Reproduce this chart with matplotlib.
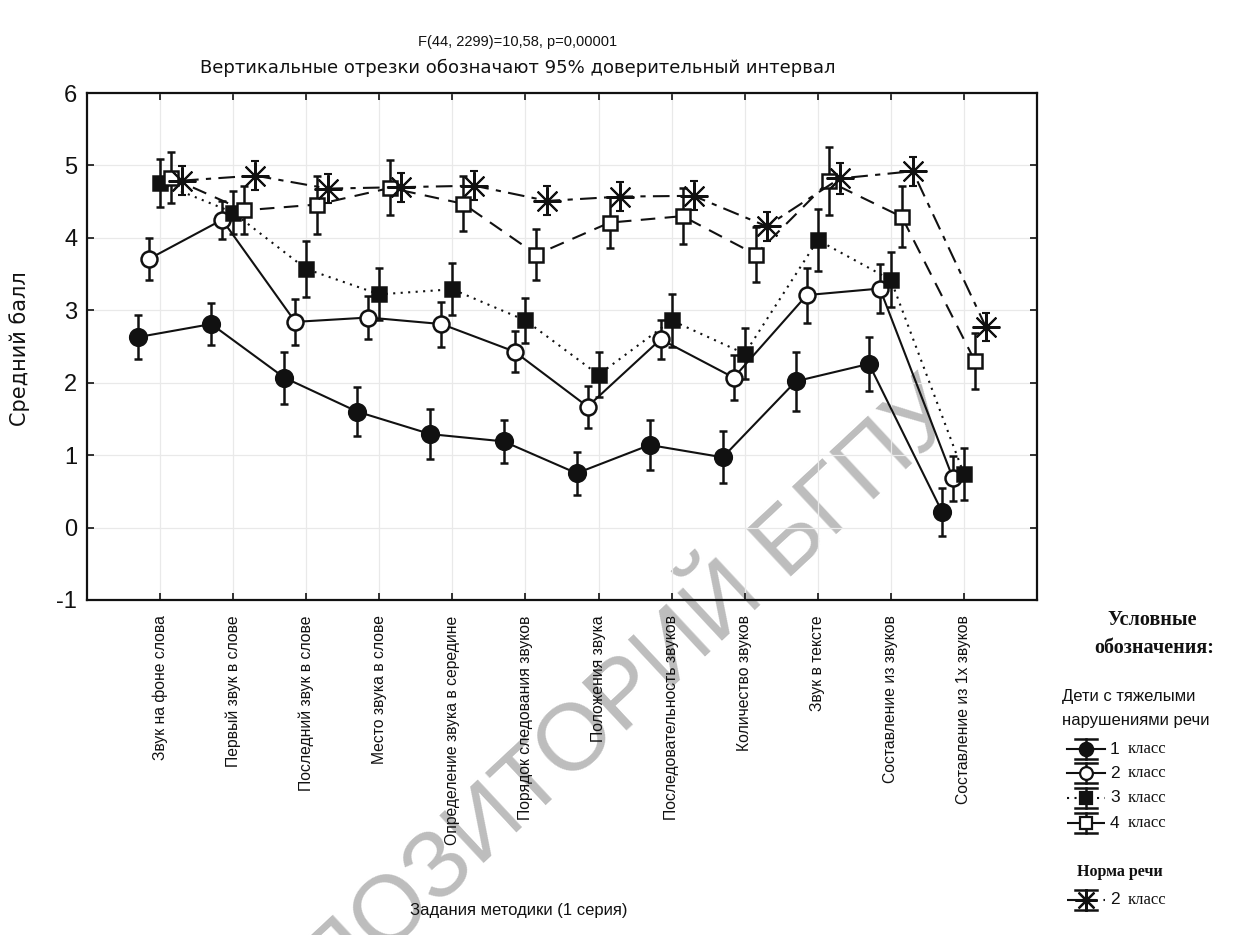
import matplotlib
matplotlib.use("Agg")
import matplotlib.pyplot as plt
import numpy as np

SANS = "Liberation Sans"
WIDE = "DejaVu Sans"
SERIF = "Liberation Serif"
INK = "#111111"

plt.rcParams.update({
    "font.family": SANS,
    "text.color": INK,
    "axes.edgecolor": INK,
})

# ---------------------------------------------------------------------------
# data
# ---------------------------------------------------------------------------
tasks = [
    "Звук на фоне слова",
    "Первый звук в слове",
    "Последний звук в слове",
    "Место звука в слове",
    "Определение звука в середине",
    "Порядок следования звуков",
    "Положения звука",
    "Последовательность звуков",
    "Количество звуков",
    "Звук в тексте",
    "Составление из звуков",
    "Составление из 1х звуков",
]

grade1 = [2.63, 2.81, 2.07, 1.60, 1.29, 1.19, 0.75, 1.14, 0.97, 2.02, 2.26, 0.22]
grade1_ci = [0.30, 0.29, 0.36, 0.34, 0.35, 0.30, 0.30, 0.35, 0.36, 0.41, 0.37, 0.33]

grade2 = [3.71, 4.25, 2.84, 2.90, 2.81, 2.43, 1.67, 2.60, 2.07, 3.21, 3.30, 0.68]
grade2_ci = [0.29, 0.26, 0.32, 0.30, 0.31, 0.28, 0.29, 0.27, 0.31, 0.38, 0.34, 0.31]

grade3 = [4.76, 4.35, 3.57, 3.22, 3.29, 2.86, 2.11, 2.86, 2.40, 3.97, 3.42, 0.74]
grade3_ci = [0.33, 0.30, 0.38, 0.36, 0.36, 0.31, 0.31, 0.36, 0.35, 0.43, 0.38, 0.36]

grade4 = [4.83, 4.38, 4.46, 4.69, 4.47, 3.77, 4.21, 4.30, 3.77, 4.78, 4.29, 2.30]
grade4_ci = [0.35, 0.33, 0.40, 0.38, 0.38, 0.35, 0.35, 0.39, 0.38, 0.47, 0.42, 0.38]

norm2 = [4.79, 4.86, 4.68, 4.70, 4.72, 4.51, 4.57, 4.58, 4.16, 4.82, 4.92, 2.77]
norm2_ci = [0.20, 0.20, 0.20, 0.20, 0.20, 0.20, 0.20, 0.20, 0.20, 0.22, 0.20, 0.19]

y_ticks = [-1, 0, 1, 2, 3, 4, 5, 6]

title_1 = "F(44, 2299)=10,58, p=0,00001"
title_2 = "Вертикальные отрезки обозначают 95% доверительный интервал"
x_title = "Задания методики (1 серия)"
y_title = "Средний балл"

# ---------------------------------------------------------------------------
# series styles
# ---------------------------------------------------------------------------
series = [
    dict(y=grade1, ci=grade1_ci, shift=-0.30, marker="o", ms=12, mfc=INK,
         mew=1.8, dashes=None, label="1"),
    dict(y=grade2, ci=grade2_ci, shift=-0.15, marker="o", ms=11.5, mfc="white",
         mew=1.8, dashes=None, label="2"),
    dict(y=grade3, ci=grade3_ci, shift=0.0, marker="s", ms=10.5, mfc=INK,
         mew=1.8, dashes=(1, 2.6), label="3"),
    dict(y=grade4, ci=grade4_ci, shift=0.15, marker="s", ms=10.5, mfc="white",
         mew=1.8, dashes=(7, 4.5), label="4"),
    dict(y=norm2, ci=norm2_ci, shift=0.30, marker=(8, 2, 0), ms=20, mfc=INK,
         mew=1.5, dashes=(8, 3.5, 2.5, 3.5), label="2"),
]

W, H = 1255, 935
fig = plt.figure(figsize=(W / 100, H / 100), dpi=100)
fig.patch.set_facecolor("white")

# watermark sits behind the plot
fig.text(585 / W, 1 - 735 / H, "РЕПОЗИТОРИЙ БГПУ", rotation=43,
         ha="center", va="center", fontsize=68, color="#bdbdbd",
         family=SANS, zorder=-5, rotation_mode="anchor")

ax = fig.add_axes([87 / W, 1 - 600 / H, 950 / W, 507 / H])
ax.set_facecolor("none")

x = np.arange(1, len(tasks) + 1)
for s in series:
    xs = x + s["shift"]
    line, caps, bars = ax.errorbar(
        xs, s["y"], yerr=s["ci"], color=INK, lw=1.5, elinewidth=1.8,
        capsize=3.2, capthick=1.8, marker=s["marker"], ms=s["ms"],
        mfc=s["mfc"], mec=INK, mew=s["mew"], zorder=3)
    if s["dashes"] is not None:
        line.set_dashes(s["dashes"])

ax.set_xlim(0, 13)
ax.set_ylim(-1, 6)
ax.set_xticks(x)
ax.set_xticklabels(tasks, rotation=90, va="top", ha="center",
                   fontsize=11.3, color="#333333")
ax.set_yticks(y_ticks)
ax.set_yticklabels([str(v) for v in y_ticks], fontsize=17)
ax.tick_params(axis="both", direction="in", top=True, right=True,
               length=5, width=1.2, colors=INK)
ax.tick_params(axis="x", pad=11)
ax.tick_params(axis="y", pad=7)
ax.grid(True, color="#e9e9e9", lw=0.9)
ax.set_axisbelow(True)
for sp in ax.spines.values():
    sp.set_linewidth(1.6)

# titles
fig.text(518 / W, 1 - 42 / H, title_1, ha="center", va="center", fontsize=10.5)
fig.text(518 / W, 1 - 68 / H, title_2, ha="center", va="center",
         fontsize=13, family=WIDE)
fig.text(519 / W, 1 - 910 / H, x_title, ha="center", va="center", fontsize=12)
fig.text(20 / W, 1 - 349 / H, y_title, ha="center", va="center",
         rotation=90, fontsize=15, family=WIDE)

# ---------------------------------------------------------------------------
# hand-made legend on the right
# ---------------------------------------------------------------------------
lax = fig.add_axes([0, 0, 1, 1])
lax.set_xlim(0, W)
lax.set_ylim(H, 0)
lax.axis("off")

lax.text(1152, 620, "Условные", ha="center", va="center", family=SERIF,
         fontweight="bold", fontsize=14.5)
lax.text(1154, 648, "обозначения:", ha="center", va="center", family=SERIF,
         fontweight="bold", fontsize=14.5)
lax.text(1062, 697, "Дети с тяжелыми", ha="left", va="center", fontsize=12)
lax.text(1062, 720, "нарушениями речи", ha="left", va="center", fontsize=12)
lax.text(1077, 872, "Норма речи", ha="left", va="center", family=SERIF,
         fontweight="bold", fontsize=11.5)

entry_y = [749, 773, 798, 823, 900]
for s, ey in zip(series, entry_y):
    ln = lax.plot([1067, 1105], [ey, ey], color=INK, lw=1.5)[0]
    if s["dashes"] is not None:
        ln.set_dashes(s["dashes"])
    lax.plot([1086, 1086], [ey - 10, ey + 10], color=INK, lw=1.8)
    lax.plot([1075, 1097], [ey - 10, ey - 10], color=INK, lw=1.8)
    lax.plot([1075, 1097], [ey + 10, ey + 10], color=INK, lw=1.8)
    lax.plot([1086], [ey], marker=s["marker"], ms=s["ms"] * 0.8,
             mfc=s["mfc"], mec=INK, mew=1.6, color=INK)
    lax.text(1110, ey, s["label"], ha="left", va="center", fontsize=12.5)
    lax.text(1128, ey, "класс", ha="left", va="center", family=SERIF,
             fontsize=12)

fig.savefig("out.png", dpi=100, facecolor="white")
